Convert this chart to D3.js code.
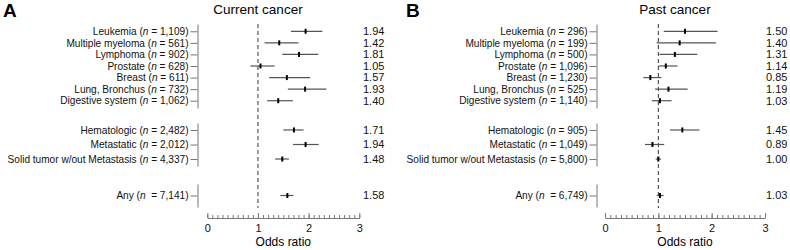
<!DOCTYPE html>
<html>
<head>
<meta charset="utf-8">
<script src="https://cdn.jsdelivr.net/npm/d3@7"></script>
<style>
  body { margin: 0; background: #fff; }
  svg { font-family: "Liberation Sans", Arial, sans-serif; }
</style>
</head>
<body>
<div id="app"></div>
<script>
// categories (3 blocks)
const siteCats = ["Leukemia", "Multiple myeloma", "Lymphoma", "Prostate", "Breast", "Lung, Bronchus", "Digestive system"];
const typeCats = ["Hematologic", "Metastatic", "Solid tumor w/out Metastasis"];
const anyCats = ["Any"];
const allCats = siteCats.concat(typeCats, anyCats);

// current cancer
const currentN  = ["1,109", "561", "902", "628", "611", "732", "1,062", "2,482", "2,012", "4,337", "7,141"];
const currentOR = [1.94, 1.42, 1.81, 1.05, 1.57, 1.93, 1.40, 1.71, 1.94, 1.48, 1.58];
const currentLo = [1.65, 1.13, 1.48, 0.85, 1.22, 1.59, 1.18, 1.50, 1.69, 1.34, 1.44];
const currentHi = [2.27, 1.80, 2.19, 1.33, 2.03, 2.35, 1.69, 1.90, 2.20, 1.61, 1.70];

// past cancer
const pastN  = ["296", "199", "500", "1,096", "1,230", "525", "1,140", "905", "1,049", "5,800", "6,749"];
const pastOR = [1.50, 1.40, 1.31, 1.14, 0.85, 1.19, 1.03, 1.45, 0.89, 1.00, 1.03];
const pastLo = [1.10, 0.97, 1.02, 1.00, 0.72, 0.94, 0.88, 1.22, 0.75, 0.95, 0.97];
const pastHi = [2.11, 2.08, 1.73, 1.36, 1.06, 1.55, 1.25, 1.77, 1.11, 1.05, 1.10];

const xTicks = [0, 1, 2, 3];

const width = 790;
const height = 250;
const gray = "#777";

const svg = d3.select('#app')
  .append('svg')
  .attr('width', width)
  .attr('height', height);

// y blocks: range of axis segment + padding of points
const blocks = [
  { cats: siteCats, range: [24, 108], pad: 0.63 },
  { cats: typeCats, range: [123, 166], pad: 0.48 },
  { cats: anyCats,  range: [184, 207], pad: 0.5 }
];
blocks.forEach(b => {
  b.scale = d3.scalePoint().domain(b.cats).range(b.range).padding(b.pad);
});
const yOf = c => blocks.find(b => b.cats.includes(c)).scale(c);

function drawPanel(p) {
  const g = svg.append('g');

  g.append('text')
    .attr('x', p.letterX).attr('y', 17)
    .attr('font-size', 19).attr('font-weight', 'bold')
    .text(p.letter);

  g.append('text')
    .attr('x', p.titleX).attr('y', 14)
    .attr('text-anchor', 'middle')
    .attr('font-size', 13.5)
    .text(p.title);

  const x = d3.scaleLinear().domain([0, 3]).range(p.xRange);

  // y axes, one per block
  blocks.forEach(b => {
    const ax = g.append('g')
      .attr('transform', `translate(${p.yAxisX},0)`)
      .call(d3.axisLeft(b.scale).tickSize(7).tickSizeOuter(0).tickPadding(2));
    ax.select('.domain').attr('stroke', gray);
    ax.selectAll('.tick line').attr('stroke', gray);
    ax.selectAll('.tick text')
      .attr('font-size', 10.1)
      .attr('fill', '#111')
      .style('white-space', 'pre')
      .each(function (c) {
        const i = allCats.indexOf(c);
        const t = d3.select(this).text(null);
        t.append('tspan').text(c + ' (');
        t.append('tspan').attr('font-style', 'italic').text('n');
        t.append('tspan').text((c === 'Any' ? '  = ' : ' = ') + p.n[i] + ')');
      });
  });

  // x axis: minor and major ticks pointing up
  const xAxisY = 218;
  const minor = g.append('g')
    .attr('transform', `translate(0,${xAxisY})`)
    .call(d3.axisBottom(x).ticks(30).tickSize(-3).tickSizeOuter(0).tickFormat(''));
  minor.select('.domain').attr('stroke', gray);
  minor.selectAll('.tick line').attr('stroke', gray);

  const major = g.append('g')
    .attr('transform', `translate(0,${xAxisY})`)
    .call(d3.axisBottom(x).tickValues(xTicks).tickSize(-5).tickSizeOuter(0).tickPadding(4).tickFormat(d3.format('d')));
  major.select('.domain').remove();
  major.selectAll('.tick line').attr('stroke', gray);
  major.selectAll('.tick text').attr('font-size', 11).attr('fill', '#111').attr('dy', '0.9em');

  g.append('text')
    .attr('x', x(1.5)).attr('y', 246)
    .attr('text-anchor', 'middle')
    .attr('font-size', 12)
    .text('Odds ratio');

  // reference line at OR = 1
  g.append('line')
    .attr('x1', x(1)).attr('x2', x(1))
    .attr('y1', 24).attr('y2', 208)
    .attr('stroke', '#333')
    .attr('stroke-dasharray', '4,3');

  // CI lines
  g.append('g').selectAll('line')
    .data(allCats)
    .enter()
    .append('line')
    .attr('x1', (c, i) => x(p.lo[i]))
    .attr('x2', (c, i) => x(p.hi[i]))
    .attr('y1', c => yOf(c))
    .attr('y2', c => yOf(c))
    .attr('stroke', '#555')
    .attr('stroke-width', 1.2);

  // point estimates
  g.append('g').selectAll('rect')
    .data(allCats)
    .enter()
    .append('rect')
    .attr('x', (c, i) => x(p.or[i]) - 1)
    .attr('y', c => yOf(c) - 2.5)
    .attr('width', 2)
    .attr('height', 5)
    .attr('fill', '#000');

  // values
  g.append('g').selectAll('text')
    .data(allCats)
    .enter()
    .append('text')
    .attr('x', p.valX)
    .attr('y', c => yOf(c))
    .attr('dy', '0.35em')
    .attr('font-size', 11)
    .attr('fill', '#111')
    .text((c, i) => p.or[i].toFixed(2));
}

drawPanel({
  letter: 'A', letterX: 3, title: 'Current cancer', titleX: 258,
  xRange: [207.3, 359.3], yAxisX: 197.5, valX: 363,
  n: currentN, or: currentOR, lo: currentLo, hi: currentHi
});

drawPanel({
  letter: 'B', letterX: 406, title: 'Past cancer', titleX: 675,
  xRange: [605, 765], yAxisX: 596.5, valX: 766,
  n: pastN, or: pastOR, lo: pastLo, hi: pastHi
});
</script>
</body>
</html>
